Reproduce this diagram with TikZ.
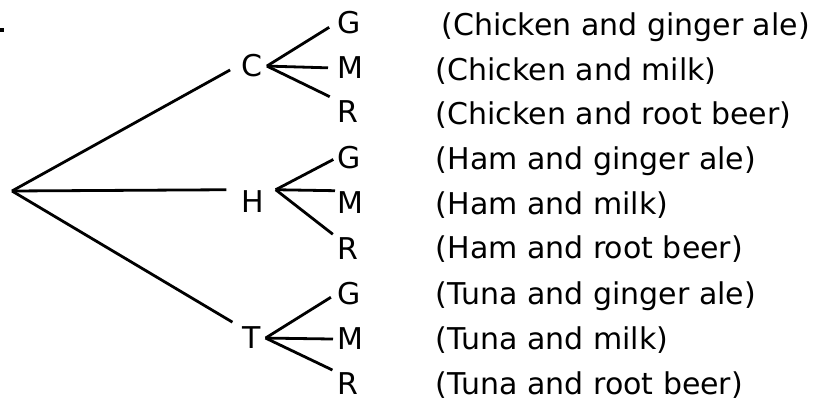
\documentclass[tikz,border=0pt]{standalone}
\usepackage{fontspec}
\setmainfont{DejaVu Sans}
\begin{document}
\begin{tikzpicture}[x=1pt,y=-1pt,line width=2.8pt,
   choice/.style={inner ysep=0pt,inner xsep=3pt,anchor=base,font=\fontsize{30}{36}\selectfont},
   leaf/.style={inner sep=0pt,anchor=base west,font=\fontsize{30}{36}\selectfont},
   combo/.style={inner sep=0pt,anchor=base west,font=\fontsize{30}{36}\selectfont}]
   \useasboundingbox (0,0) rectangle (817,403);
   \node[fill,inner sep=0pt,minimum size=4pt] (dot) at (2,30) {};
   %
   \coordinate (root) at (12,191);
   \node[choice] (C) at (252,77) {C};
   \node[choice,inner xsep=10pt] (H) at (253,213) {H};
   \node[choice] (T) at (252,349) {T};
   \draw[shorten >=8pt] (root) -- (C.west);
   \draw[shorten >=4pt] (root) -- (H.north west);
   \draw[shorten >=7pt] (root) -- (T.north west);
   %
   \node[leaf] (CG) at (336,34) {G};
   \node[leaf] (CM) at (336,79) {M};
   \node[leaf] (CR) at (336,123) {R};
   \node[leaf] (HG) at (336,169) {G};
   \node[leaf] (HM) at (336,214) {M};
   \node[leaf] (HR) at (336,260) {R};
   \node[leaf] (TG) at (336,305) {G};
   \node[leaf] (TM) at (336,350) {M};
   \node[leaf] (TR) at (336,395) {R};
   %
   \draw[shorten >=8pt] (C.east) -- (CG.west);
   \draw[shorten >=8pt] (C.east) -- (CM.west);
   \draw[shorten >=7pt] (C.east) -- (CR.north west);
   \draw[shorten >=3pt] (H.north east) -- (HG.west);
   \draw[shorten >=1pt] (H.north east) -- (HM.north west);
   \draw[shorten >=4pt] (H.north east) -- (HR.north west);
   \draw[shorten >=6pt] (T.east) -- (TG.west);
   \draw[shorten >=3pt] (T.east) -- (TM.west);
   \draw[shorten >=4pt] (T.east) -- (TR.north west);
   %
   \node[combo] (d1) at (440,36) {(Chicken and ginger ale)};
   \node[combo] (d2) at (434.5,81) {(Chicken and milk)};
   \node[combo] (d3) at (434.5,125) {(Chicken and root beer)};
   \node[combo] (d4) at (434.5,170) {(Ham and ginger ale)};
   \node[combo] (d5) at (434.5,215) {(Ham and milk)};
   \node[combo] (d6) at (434.5,259) {(Ham and root beer)};
   \node[combo] (d7) at (434.5,305) {(Tuna and ginger ale)};
   \node[combo] (d8) at (434.5,350) {(Tuna and milk)};
   \node[combo] (d9) at (434.5,395) {(Tuna and root beer)};
   %
\end{tikzpicture}
\end{document}
